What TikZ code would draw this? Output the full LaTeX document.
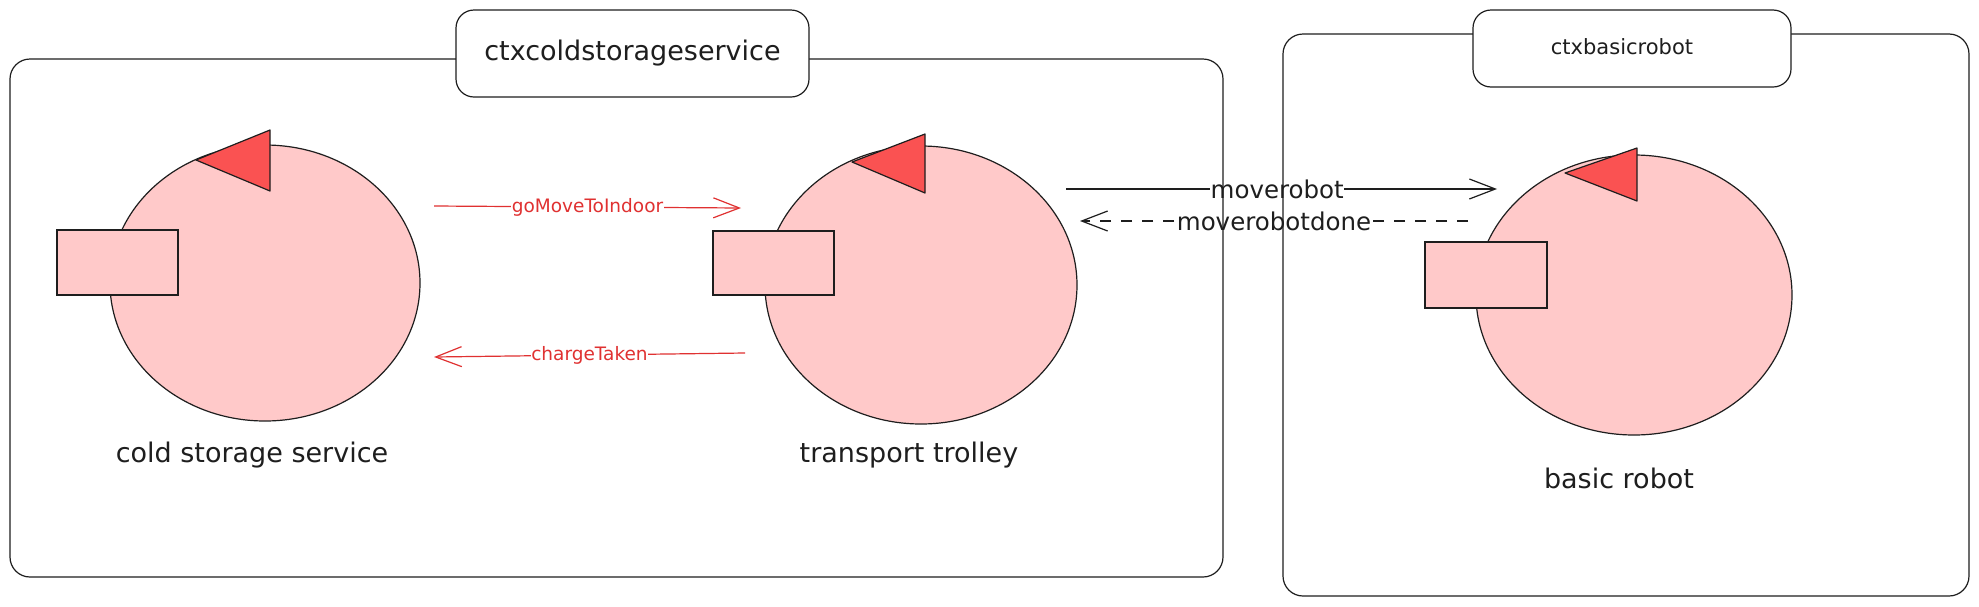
\documentclass[tikz,border=0pt]{standalone}
\usepackage{fontspec}
\setmainfont{DejaVu Sans}
\usetikzlibrary{arrows.meta,shapes.geometric}
\definecolor{ink}{HTML}{1E1E1E}
\definecolor{pinkfill}{HTML}{FFC9C9}
\definecolor{redfill}{HTML}{FA5252}
\definecolor{redline}{HTML}{E03131}
\begin{document}
\begin{tikzpicture}[x=1pt,y=-1pt,
  actor/.style={ellipse, draw=ink, fill=pinkfill, line width=1.2pt, inner sep=0pt},
  port/.style={draw=ink, fill=pinkfill, line width=1.2pt, inner sep=0pt},
  head/.style={draw=ink, fill=redfill, line width=1.2pt, line join=round},
  ctx/.style={draw=ink, line width=1.2pt, rounded corners=20pt},
  ctxtitle/.style={draw=ink, fill=white, rounded corners=18pt, line width=1.2pt, inner sep=0pt},
  msg/.style={-{Straight Barb[length=26pt,width=20pt,line width=1.2pt]}, line width=1.2pt},
  lbl/.style={fill=white, inner sep=0.5pt},
  bigtext/.style={font=\fontsize{27}{32}\selectfont, text=ink},
  redtext/.style={font=\fontsize{18.5}{22}\selectfont, text=redline},
  blacktext/.style={font=\fontsize{24.5}{30}\selectfont, text=ink}]
\useasboundingbox (0,0) rectangle (1979,606);
\fill[white] (0,0) rectangle (1979,606);

% actors
\node[actor, minimum width=310pt, minimum height=276pt] (css) at (265,283) {};
\node[port, minimum width=121pt, minimum height=65pt] (cssp) at (117.5,262.5) {};
\draw[head] (196,160) -- (270,130) -- (270,191) -- cycle;
\node[bigtext] (lcss) at (252,455) {cold storage service};

\node[actor, minimum width=312pt, minimum height=278pt] (tt) at (921,285) {};
\node[port, minimum width=121pt, minimum height=64pt] (ttp) at (773.5,263) {};
\draw[head] (852,162) -- (925,134) -- (925,193) -- cycle;
\node[bigtext] (ltt) at (909,455) {transport trolley};

\node[actor, minimum width=316pt, minimum height=280pt] (br) at (1634,295) {};
\node[port, minimum width=122pt, minimum height=66pt] (brp) at (1486,275) {};
\draw[head] (1565,173) -- (1637,148) -- (1637,201) -- cycle;
\node[bigtext] (lbr) at (1619,478) {basic robot};

% messages
\coordinate (g1) at (434,206); \coordinate (g2) at (741,208);
\draw[msg, draw=redline] (g1) -- (g2) node[pos=0.5, lbl, redtext] (lg) {goMoveToIndoor};
\coordinate (c1) at (745,353); \coordinate (c2) at (434,357);
\draw[msg, draw=redline] (c1) -- (c2) node[pos=0.5, lbl, redtext] (lc) {chargeTaken};
\coordinate (m1) at (1066,189); \coordinate (m2) at (1497,189);
\draw[msg, draw=ink] (m1) -- (m2) node[pos=0.49, lbl, blacktext] (lm) {moverobot};
\coordinate (d1) at (1468,221); \coordinate (d2) at (1080,221);
\draw[msg, draw=ink, dash pattern=on 11pt off 10pt] (d1) -- (d2) node[pos=0.5, lbl, blacktext] (ld) {moverobotdone};

% contexts
\draw[ctx] (10,59) rectangle (1223,577);
\node[ctxtitle, minimum width=353pt, minimum height=87pt, bigtext] (t1) at (632.5,53.5) {ctxcoldstorageservice};
\draw[ctx] (1283,34) rectangle (1969,596);
\node[ctxtitle, minimum width=318pt, minimum height=77pt] (t2) at (1632,48.5) {};
\node[font=\fontsize{21}{25}\selectfont, text=ink] (t2l) at (1622,47) {ctxbasicrobot};
\end{tikzpicture}
\end{document}
